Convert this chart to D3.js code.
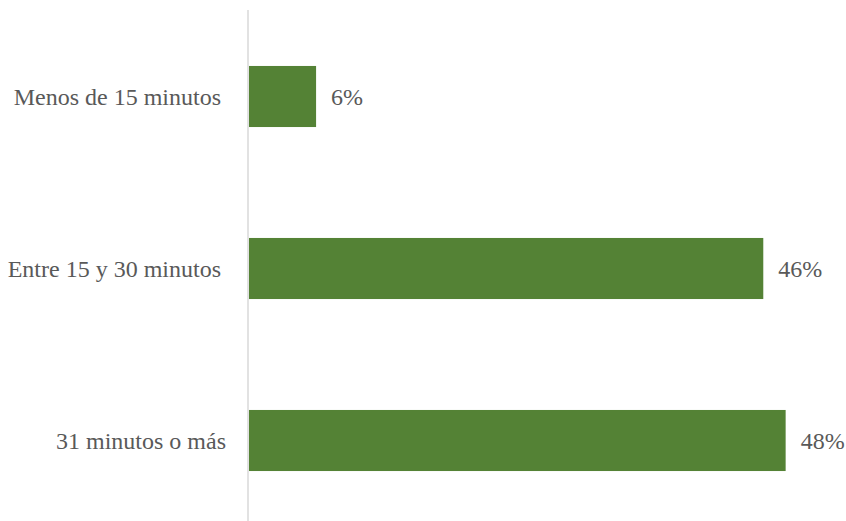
<!DOCTYPE html>
<html>
<head>
<meta charset="utf-8">
<script src="https://cdn.jsdelivr.net/npm/d3@7"></script>
</head>
<body style="margin:0;background:#ffffff">
<svg id="s" width="846" height="521" style="display:block;font-family:'Liberation Serif', 'Times New Roman', serif"></svg>
<script>
const categories = ["Menos de 15 minutos", "Entre 15 y 30 minutos", "31 minutos o más"];
const values = [6, 46, 48];
const labels = ["6%", "46%", "48%"];

const svg = d3.select("#s");
const x0 = 249;
const pxPerPct = 11.18;

const x = d3.scaleLinear().domain([0, 50]).range([x0, x0 + 50 * pxPerPct]);
const y = d3.scaleBand()
  .domain(categories)
  .range([10.5, 526.5])
  .paddingInner(0.645)
  .paddingOuter(0.3225);

svg.selectAll("rect.bar")
  .data(values)
  .enter().append("rect")
  .attr("class", "bar")
  .attr("x", x(0))
  .attr("y", (d, i) => y(categories[i]))
  .attr("width", d => x(d) - x(0))
  .attr("height", y.bandwidth())
  .attr("fill", "#548235");

svg.append("line")
  .attr("x1", x(0) - 1).attr("x2", x(0) - 1)
  .attr("y1", 10).attr("y2", 521)
  .attr("stroke", "#d9d9d9")
  .attr("stroke-width", 1.5);

svg.selectAll("text.c")
  .data(categories)
  .enter().append("text")
  .attr("class", "c")
  .attr("x", (d, i) => i === 2 ? 226 : 221)
  .attr("y", d => y(d) + y.bandwidth() / 2 + 8.4)
  .attr("text-anchor", "end")
  .attr("font-family", "Liberation Serif")
  .attr("font-size", 24)
  .attr("fill", "#595959")
  .text(d => d);

svg.selectAll("text.v")
  .data(values)
  .enter().append("text")
  .attr("class", "v")
  .attr("x", d => x(d) + 15)
  .attr("y", (d, i) => y(categories[i]) + y.bandwidth() / 2 + 8.4)
  .attr("font-family", "Liberation Serif")
  .attr("font-size", 24)
  .attr("fill", "#595959")
  .text((d, i) => labels[i]);
</script>
</body>
</html>
